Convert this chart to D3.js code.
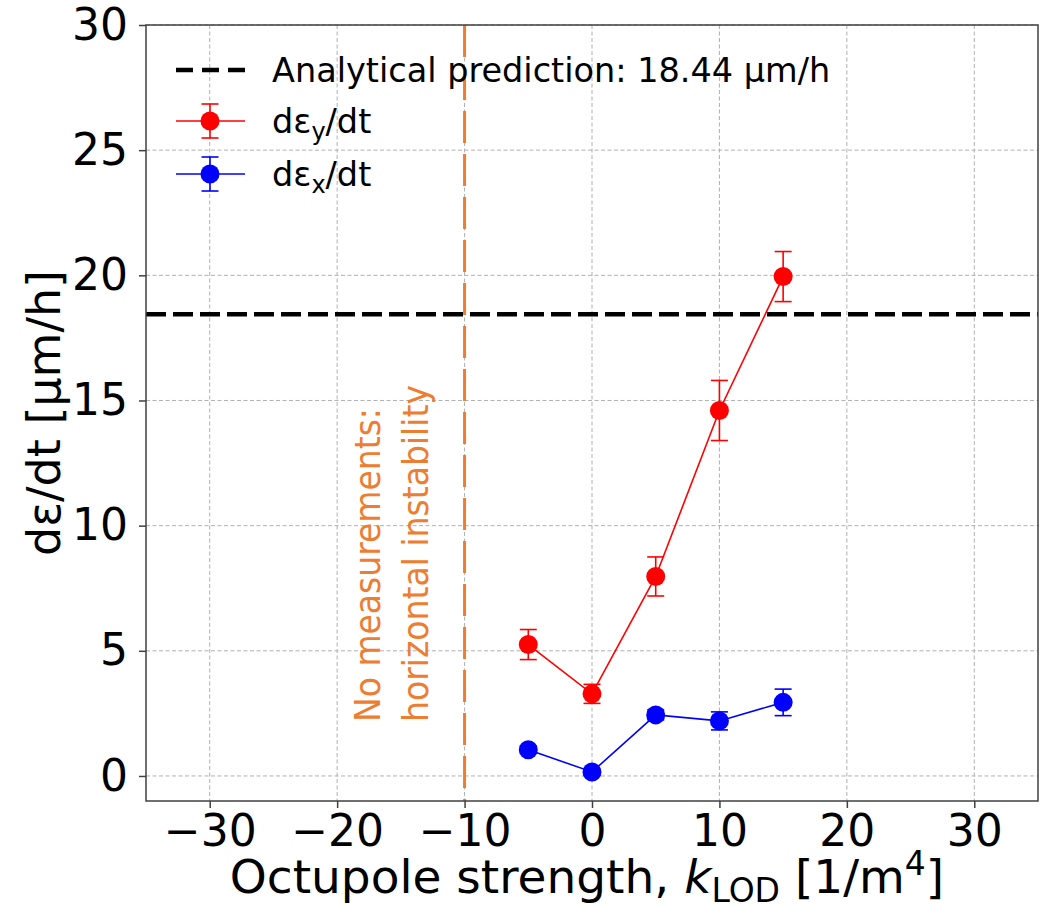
<!DOCTYPE html>
<html>
<head>
<meta charset="utf-8">
<script src="https://cdn.jsdelivr.net/npm/d3@7"></script>
<style>
  body { margin: 0; background: #fff; }
  svg { display: block; }
  text { font-family: "DejaVu Sans", sans-serif; }
</style>
</head>
<body>
<div class="chart"></div>
<script>
// values
var kValues = [-5, 0, 5, 10, 15];
var rateY = [5.25, 3.28, 7.97, 14.6, 19.95];
var rateYErr = [0.6, 0.38, 0.78, 1.2, 1.0];
var rateX = [1.05, 0.16, 2.44, 2.2, 2.94];
var rateXErr = [0.15, 0.1, 0.2, 0.36, 0.53];
var analytical = 18.44;
var instabilityEdge = -10;
var xTicks = [-30, -20, -10, 0, 10, 20, 30];
var yTicks = [0, 5, 10, 15, 20, 25, 30];

var width = 1046;
var height = 915;
var plotLeft = 146, plotRight = 1038, plotTop = 25, plotBottom = 801;

var svg = d3.select(".chart")
            .append("svg")
            .attr("width", width)
            .attr("height", height);

var x = d3.scaleLinear().domain([-35, 35]).range([plotLeft, plotRight]);
var y = d3.scaleLinear().domain([-1, 30]).range([plotBottom, plotTop]);

// grid
var grid = svg.append("g").attr("class", "grid");
grid.selectAll("line.gx")
    .data(xTicks)
    .enter().append("line")
    .attr("x1", function(d) { return x(d); })
    .attr("x2", function(d) { return x(d); })
    .attr("y1", plotTop)
    .attr("y2", plotBottom);
grid.selectAll("line.gy")
    .data(yTicks)
    .enter().append("line")
    .attr("x1", plotLeft)
    .attr("x2", plotRight)
    .attr("y1", function(d) { return y(d); })
    .attr("y2", function(d) { return y(d); });
grid.selectAll("line")
    .attr("stroke", "#b0b0b0")
    .attr("stroke-width", 1)
    .attr("stroke-dasharray", "4,2.5");

// orange boundary + note
svg.append("line")
    .attr("x1", x(instabilityEdge))
    .attr("x2", x(instabilityEdge))
    .attr("y1", plotTop)
    .attr("y2", plotBottom)
    .attr("stroke", "#ed7d31")
    .attr("stroke-width", 3)
    .attr("stroke-dasharray", "32,11");

var note = svg.append("g")
    .attr("fill", "#ed7d31")
    .style("font-family", "Lato, sans-serif")
    .style("font-size", "36px");
note.append("text")
    .attr("transform", "translate(380,722) rotate(-90)")
    .attr("textLength", 314)
    .attr("lengthAdjust", "spacingAndGlyphs")
    .text("No measurements:");
note.append("text")
    .attr("transform", "translate(428,722) rotate(-90)")
    .attr("textLength", 337)
    .attr("lengthAdjust", "spacingAndGlyphs")
    .text("horizontal instability");

// analytical prediction
svg.append("line")
    .attr("x1", plotLeft)
    .attr("x2", plotRight)
    .attr("y1", y(analytical))
    .attr("y2", y(analytical))
    .attr("stroke", "#000")
    .attr("stroke-width", 4.5)
    .attr("stroke-dasharray", "20,7");

var drawSeries = function(values, errs, color) {
    var pts = kValues.map(function(k, i) {
        return { k: k, v: values[i], e: errs[i] };
    });
    var g = svg.append("g");
    g.append("path")
        .datum(pts)
        .attr("fill", "none")
        .attr("stroke", color)
        .attr("stroke-width", 1.6)
        .attr("d", d3.line()
            .x(function(d) { return x(d.k); })
            .y(function(d) { return y(d.v); }));

    var bars = g.selectAll("g.err")
        .data(pts)
        .enter().append("g")
        .attr("stroke", color)
        .attr("stroke-width", 1.6);
    bars.append("line")
        .attr("x1", function(d) { return x(d.k); })
        .attr("x2", function(d) { return x(d.k); })
        .attr("y1", function(d) { return y(d.v - d.e); })
        .attr("y2", function(d) { return y(d.v + d.e); });
    [-1, 1].forEach(function(s) {
        bars.append("line")
            .attr("x1", function(d) { return x(d.k) - 8.5; })
            .attr("x2", function(d) { return x(d.k) + 8.5; })
            .attr("y1", function(d) { return y(d.v + s * d.e); })
            .attr("y2", function(d) { return y(d.v + s * d.e); });
    });

    g.selectAll("circle")
        .data(pts)
        .enter().append("circle")
        .attr("cx", function(d) { return x(d.k); })
        .attr("cy", function(d) { return y(d.v); })
        .attr("r", 9.5)
        .attr("fill", color);
};

drawSeries(rateY, rateYErr, "#ff0000");
drawSeries(rateX, rateXErr, "#0000ff");

// frame
svg.append("rect")
    .attr("x", plotLeft)
    .attr("y", plotTop)
    .attr("width", plotRight - plotLeft)
    .attr("height", plotBottom - plotTop)
    .attr("fill", "none")
    .attr("stroke", "#404040")
    .attr("stroke-width", 1.5);

// axes
var xAxis = svg.append("g")
    .attr("transform", "translate(0," + plotBottom + ")")
    .call(d3.axisBottom(x).tickValues(xTicks).tickSize(7).tickPadding(7).tickSizeOuter(0));
var yAxis = svg.append("g")
    .attr("transform", "translate(" + plotLeft + ",0)")
    .call(d3.axisLeft(y).tickValues(yTicks).tickSize(7).tickPadding(11).tickSizeOuter(0));
[xAxis, yAxis].forEach(function(a) {
    a.select(".domain").remove();
    a.selectAll(".tick line").attr("stroke", "#404040").attr("stroke-width", 1.5);
    a.selectAll(".tick text")
        .attr("fill", "#000")
        .style("font-family", "DejaVu Sans, sans-serif")
        .style("font-size", "44px");
});

// axis labels
var xl = svg.append("text")
    .attr("x", 587)
    .attr("y", 893)
    .attr("text-anchor", "middle")
    .style("font-size", "47px");
xl.append("tspan").text("Octupole strength, ");
xl.append("tspan").attr("font-style", "italic").text("k");
xl.append("tspan").attr("dy", 9).style("font-size", "33px").text("LOD");
xl.append("tspan").attr("dy", -9).text(" [1/m");
xl.append("tspan").attr("dy", -18).style("font-size", "33px").text("4");
xl.append("tspan").attr("dy", 18).text("]");

svg.append("text")
    .attr("transform", "translate(60," + ((plotTop + plotBottom) / 2) + ") rotate(-90)")
    .attr("text-anchor", "middle")
    .style("font-size", "46px")
    .text("dε/dt [μm/h]");

// legend
var legend = svg.append("g").style("font-size", "33.5px");
legend.append("line")
    .attr("x1", 176).attr("x2", 245)
    .attr("y1", 70).attr("y2", 70)
    .attr("stroke", "#000")
    .attr("stroke-width", 4.5)
    .attr("stroke-dasharray", "17,9");
legend.append("text")
    .attr("x", 272).attr("y", 82)
    .text("Analytical prediction: 18.44 μm/h");

var legendItem = function(cy, color, sub) {
    var g = legend.append("g").attr("stroke", color).attr("stroke-width", 1.6);
    g.append("line").attr("x1", 176).attr("x2", 245).attr("y1", cy).attr("y2", cy);
    g.append("line").attr("x1", 210).attr("x2", 210).attr("y1", cy - 17).attr("y2", cy + 17);
    g.append("line").attr("x1", 201.5).attr("x2", 218.5).attr("y1", cy - 17).attr("y2", cy - 17);
    g.append("line").attr("x1", 201.5).attr("x2", 218.5).attr("y1", cy + 17).attr("y2", cy + 17);
    g.append("circle").attr("cx", 210).attr("cy", cy).attr("r", 9.5).attr("fill", color).attr("stroke", "none");
    var t = legend.append("text").attr("x", 272).attr("y", cy + 12);
    t.append("tspan").text("dε");
    t.append("tspan").attr("dy", 7).style("font-size", "24px").text(sub);
    t.append("tspan").attr("dy", -7).text("/dt");
};
legendItem(121, "#ff0000", "y");
legendItem(174, "#0000ff", "x");
</script>
</body>
</html>
